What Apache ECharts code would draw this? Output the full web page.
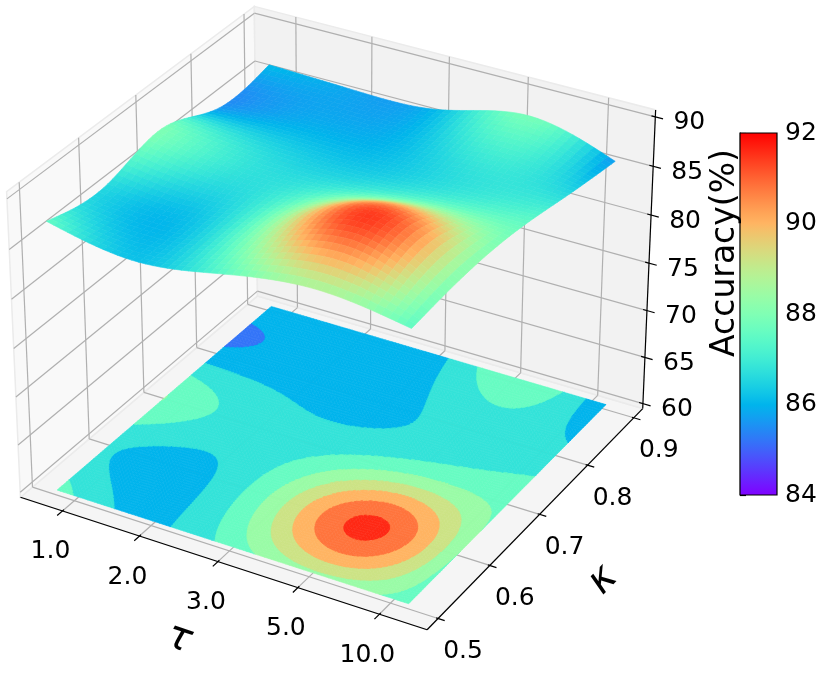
<!DOCTYPE html>
<html>
<head>
<meta charset="utf-8">
<script src="https://cdn.jsdelivr.net/npm/echarts@6/dist/echarts.min.js"></script>
<style>html,body{margin:0;padding:0;background:#fff}#chart{width:830px;height:676px}</style>
</head>
<body>
<div id="chart"></div>
<script>
// ---- data ----
const tauLabels = ['1.0', '2.0', '3.0', '5.0', '10.0'];
const kappaValues = [0.5, 0.6, 0.7, 0.8, 0.9];
const zTicks = [60, 65, 70, 75, 80, 85, 90];
const colorTicks = [84, 86, 88, 90, 92];
// accuracy (%) per tau, one row per kappa
const accK05 = [87.6, 86.2, 87.5, 88.6, 87.5];
const accK06 = [86.6, 86.2, 88.4, 91.4, 88.0];
const accK07 = [88.0, 86.8, 86.9, 87.8, 87.7];
const accK08 = [85.7, 86.0, 86.1, 86.8, 86.6];
const accK09 = [86.1, 85.8, 86.1, 87.9, 85.6];
const accRows = [accK05, accK06, accK07, accK08, accK09];

// ---- view (azim, elev, dist, y aspect, z aspect, scale, cx, cy) and box limits ----
const VIEW = [-60.06, 30.32, 9.007, 0.9948, 0.7507, 465.99, 336.88, 304.30];
const t0 = -0.5538, t1 = 4.5763;   // tau axis, tick units
const k0 = 0.4793, k1 = 0.9198;    // kappa axis
const z0 = 59.4596, z1 = 90.7046;  // accuracy axis
const tauLo = -0.225, tauHi = 4.22; // extent of the surface on the tau axis
const zFloor = 60;
const vMin = 84, vMax = 92;
const levels = [];
for (let i = 0; i <= 10; i++) levels.push(vMin + i * 0.8);

function projN(nx, ny, nz) {
  const A = VIEW[0] * Math.PI / 180, E = VIEW[1] * Math.PI / 180, D = VIEW[2];
  const X = nx - 0.5, Y = (ny - 0.5) * VIEW[3], Z = (nz - 0.5) * VIEW[4];
  const w = [Math.cos(E) * Math.cos(A), Math.cos(E) * Math.sin(A), Math.sin(E)];
  const u = [-Math.sin(A), Math.cos(A), 0];
  const v = [-Math.sin(E) * Math.cos(A), -Math.sin(E) * Math.sin(A), Math.cos(E)];
  const dep = D - (X * w[0] + Y * w[1] + Z * w[2]);
  const sx = (X * u[0] + Y * u[1]) * D / dep;
  const sy = (X * v[0] + Y * v[1] + Z * v[2]) * D / dep;
  return [VIEW[6] + VIEW[5] * sx, VIEW[7] - VIEW[5] * sy, dep];
}
const projD = (t, k, z) => projN((t - t0) / (t1 - t0), (k - k0) / (k1 - k0), (z - z0) / (z1 - z0));
const pr = (t, k, z) => { const s = projD(t, k, z); return [s[0], s[1]]; };

// matplotlib 'rainbow'
function rainbow(x) {
  x = Math.max(0, Math.min(1, x));
  const r = Math.min(1, Math.abs(2 * x - 0.5)), g = Math.sin(Math.PI * x), b = Math.cos(Math.PI * x / 2);
  const h = c => Math.round(Math.max(0, Math.min(1, c)) * 255).toString(16).padStart(2, '0');
  return '#' + h(r) + h(g) + h(b);
}
const colorOf = v => rainbow((v - vMin) / (vMax - vMin));

// natural cubic spline on nodes 0..n-1
function splineM(y) {
  const n = y.length, M = new Array(n).fill(0);
  const b = [], d = [];
  for (let i = 1; i < n - 1; i++) { b.push(4); d.push(6 * (y[i + 1] - 2 * y[i] + y[i - 1])); }
  const m = d.length;
  for (let i = 1; i < m; i++) { const w = 1 / b[i - 1]; b[i] -= w; d[i] -= w * d[i - 1]; }
  const s = new Array(m);
  s[m - 1] = d[m - 1] / b[m - 1];
  for (let i = m - 2; i >= 0; i--) s[i] = (d[i] - s[i + 1]) / b[i];
  for (let i = 0; i < m; i++) M[i + 1] = s[i];
  return M;
}
function splineAt(y, M, x) {
  const i = Math.max(0, Math.min(y.length - 2, Math.floor(x))), u = x - i, w = 1 - u;
  return w * y[i] + u * y[i + 1] + ((w * w * w - w) * M[i] + (u * u * u - u) * M[i + 1]) / 6;
}

// interpolated grid F[j][i]
const NF = 100;
const rowM = accRows.map(splineM);
const tmp = accRows.map((row, j) => {
  const out = [];
  for (let i = 0; i <= NF; i++) out.push(splineAt(row, rowM[j], i / NF * 4));
  return out;
});
const F = [];
for (let j = 0; j <= NF; j++) F.push([]);
for (let i = 0; i <= NF; i++) {
  const col = tmp.map(r => r[i]);
  const M = splineM(col);
  for (let j = 0; j <= NF; j++) F[j][i] = splineAt(col, M, j / NF * 4);
}
const gT = i => tauLo + (tauHi - tauLo) * i / NF;
const gK = j => kappaValues[0] + (kappaValues[4] - kappaValues[0]) * j / NF;

// ---- filled contour on the floor ----
function clip(poly, lvl, keepAbove) {
  const out = [];
  for (let i = 0; i < poly.length; i++) {
    const A = poly[i], B = poly[(i + 1) % poly.length];
    const ina = keepAbove ? A[2] >= lvl : A[2] <= lvl;
    const inb = keepAbove ? B[2] >= lvl : B[2] <= lvl;
    if (ina) out.push(A);
    if (ina !== inb) {
      const s = (lvl - A[2]) / (B[2] - A[2]);
      out.push([A[0] + s * (B[0] - A[0]), A[1] + s * (B[1] - A[1]), lvl]);
    }
  }
  return out;
}
const bandOf = v => Math.max(0, Math.min(levels.length - 2, Math.floor((v - vMin) / 0.8)));
const contourPolys = [];
for (let j = 0; j < NF; j++) {
  for (let i = 0; i < NF; i++) {
    const q = [[gT(i), gK(j), F[j][i]], [gT(i + 1), gK(j), F[j][i + 1]], [gT(i + 1), gK(j + 1), F[j + 1][i + 1]], [gT(i), gK(j + 1), F[j + 1][i]]];
    const bs = q.map(c => bandOf(c[2]));
    const bmin = Math.min(...bs), bmax = Math.max(...bs);
    if (bmin === bmax) { contourPolys.push({ pts: q, band: bmin }); continue; }
    [[q[0], q[1], q[2]], [q[0], q[2], q[3]]].forEach(tri => {
      for (let b = bmin; b <= bmax; b++) {
        let pl = tri;
        if (b > 0) pl = clip(pl, levels[b], true);
        if (pl.length && b < levels.length - 2) pl = clip(pl, levels[b + 1], false);
        if (pl.length >= 3) contourPolys.push({ pts: pl, band: b });
      }
    });
  }
}
const contourItems = contourPolys.map(c => ({
  pts: c.pts.map(p => pr(p[0], p[1], zFloor)),
  color: colorOf((levels[c.band] + levels[c.band + 1]) / 2)
}));

// ---- surface faces, back to front ----
const NS = 50, st = NF / NS;
const surfItems = [];
for (let j = 0; j < NS; j++) {
  for (let i = 0; i < NS; i++) {
    const idx = [[i * st, j * st], [(i + 1) * st, j * st], [(i + 1) * st, (j + 1) * st], [i * st, (j + 1) * st]];
    let zsum = 0, dsum = 0;
    const pts = idx.map(([a, b]) => {
      const z = F[b][a]; zsum += z;
      const s = projD(gT(a), gK(b), z); dsum += s[2];
      return [s[0], s[1]];
    });
    surfItems.push({ pts, color: colorOf(zsum / 4), depth: dsum / 4 });
  }
}
surfItems.sort((a, b) => b.depth - a.depth);

// ---- panes, grid, axes ----
const graphics = [];
const poly = (pts, fill, z) => graphics.push({ type: 'polygon', z, silent: true, shape: { points: pts }, style: { fill, stroke: '#ebebeb', lineWidth: 1.5 } });
const line = (a, b, stroke, lw, z) => graphics.push({ type: 'line', z, silent: true, shape: { x1: a[0], y1: a[1], x2: b[0], y2: b[1] }, style: { stroke, lineWidth: lw } });
const FONT = 'DejaVu Sans';
const text = (s, p, size, opts) => graphics.push(Object.assign({
  type: 'text', z: 40, silent: true, x: p[0], y: p[1],
  style: Object.assign({ text: s, fontSize: size, fontFamily: FONT, fill: '#000', align: 'center', verticalAlign: 'middle' }, (opts && opts.style) || {})
}, opts && opts.rotation !== undefined ? { rotation: opts.rotation } : {}));

poly([pr(t0, k0, z0), pr(t1, k0, z0), pr(t1, k1, z0), pr(t0, k1, z0)], '#f5f5f5', 1);
poly([pr(t0, k0, z0), pr(t0, k1, z0), pr(t0, k1, z1), pr(t0, k0, z1)], '#f9f9f9', 1);
poly([pr(t0, k1, z0), pr(t1, k1, z0), pr(t1, k1, z1), pr(t0, k1, z1)], '#f2f2f2', 1);
const GC = '#b0b0b0', GW = 1.2;
tauLabels.forEach((s, t) => { line(pr(t, k0, z0), pr(t, k1, z0), GC, GW, 2); line(pr(t, k1, z0), pr(t, k1, z1), GC, GW, 2); });
kappaValues.forEach(k => { line(pr(t0, k, z0), pr(t1, k, z0), GC, GW, 2); line(pr(t0, k, z0), pr(t0, k, z1), GC, GW, 2); });
zTicks.forEach(z => { line(pr(t0, k0, z), pr(t0, k1, z), GC, GW, 2); line(pr(t0, k1, z), pr(t1, k1, z), GC, GW, 2); });

line(pr(t0, k0, z0), pr(t1, k0, z0), '#000', 1.2, 40);
line(pr(t1, k0, z0), pr(t1, k1, z0), '#000', 1.2, 40);
line(pr(t1, k1, z0), pr(t1, k1, z1), '#000', 1.2, 40);
function unit(a, b) { const dx = b[0] - a[0], dy = b[1] - a[1], l = Math.hypot(dx, dy); return [dx / l, dy / l]; }
const tickLine = (p, d, inn, out) => line([p[0] - d[0] * inn, p[1] - d[1] * inn], [p[0] + d[0] * out, p[1] + d[1] * out], '#000', 1.2, 40);
tauLabels.forEach((s, t) => {
  const p = pr(t, k0, z0);
  tickLine(p, unit(p, pr(t, k0 - 0.05, z0)), 2, 7);
  text(s, [p[0] - 12, p[1] + 41], 25);
});
kappaValues.forEach(k => {
  const p = pr(t1, k, z0);
  tickLine(p, unit(p, pr(t1 + 0.5, k, z0)), 2, 7);
  text(k.toFixed(1), [p[0] + 25, p[1] + 33], 25);
});
zTicks.forEach(z => {
  const p = pr(t1, k1, z);
  tickLine(p, unit(p, pr(t1 + 0.5, k1, z)), 4, 8);
  text(String(z), [p[0] + 34, p[1] + 6], 25);
});
text('τ', [179, 639], 40, { rotation: -0.32, style: { fontStyle: 'italic' } });
text('κ', [603, 580], 40, { rotation: 0.8, style: { fontStyle: 'italic' } });
text('Accuracy(%)', [725, 253], 33, { rotation: Math.PI / 2 });

const cbStops = [];
for (let i = 0; i <= 40; i++) cbStops.push({ offset: i / 40, color: rainbow(i / 40) });

const chart = echarts.init(document.getElementById('chart'));
chart.setOption({
  animation: false,
  graphic: { elements: graphics },
  grid: { left: 740, top: 133, width: 37, height: 362 },
  xAxis: { type: 'value', min: 0, max: 1, show: false },
  yAxis: {
    type: 'value', min: vMin, max: vMax, interval: 2, position: 'right',
    axisLine: { show: true, lineStyle: { color: '#000', width: 1.2 } },
    axisTick: { show: true, length: 6, lineStyle: { color: '#000', width: 1.2 } },
    axisLabel: { fontSize: 25, color: '#000', margin: 8, fontFamily: FONT, formatter: v => colorTicks.includes(v) ? String(v) : '' },
    splitLine: { show: false }
  },
  series: [
    {
      type: 'custom', coordinateSystem: 'none', z: 10, silent: true, progressive: 0,
      data: contourItems.map((c, i) => i),
      renderItem: (params, api) => {
        const c = contourItems[api.value(0)];
        return { type: 'polygon', shape: { points: c.pts }, style: { fill: c.color, stroke: c.color, lineWidth: 0.6 } };
      }
    },
    {
      type: 'custom', coordinateSystem: 'none', z: 11, silent: true, progressive: 0,
      data: surfItems.map((c, i) => i),
      renderItem: (params, api) => {
        const c = surfItems[api.value(0)];
        return { type: 'polygon', shape: { points: c.pts }, style: { fill: c.color, stroke: c.color, lineWidth: 0.6 } };
      }
    },
    {
      type: 'custom', xAxisIndex: 0, yAxisIndex: 0, z: 5, silent: true,
      data: [[0, vMin, 1, vMax]],
      renderItem: (params, api) => {
        const a = api.coord([api.value(0), api.value(1)]), b = api.coord([api.value(2), api.value(3)]);
        return {
          type: 'rect', shape: { x: a[0], y: b[1], width: b[0] - a[0], height: a[1] - b[1] },
          style: { fill: new echarts.graphic.LinearGradient(0, 1, 0, 0, cbStops), stroke: '#000', lineWidth: 1.2 }
        };
      }
    }
  ]
});
</script>
</body>
</html>
